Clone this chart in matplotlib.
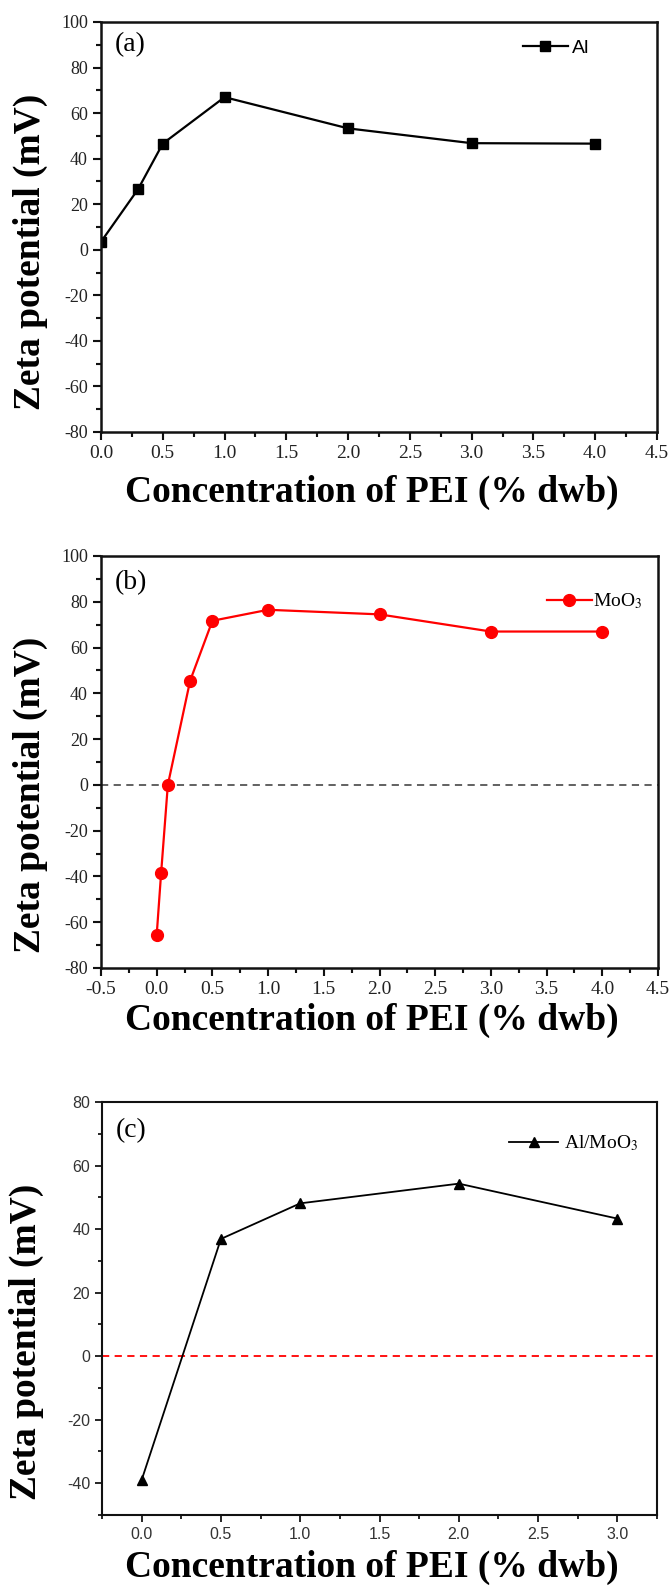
import matplotlib
matplotlib.use("Agg")
import matplotlib.pyplot as plt
from matplotlib.ticker import MultipleLocator

plt.rcParams["axes.unicode_minus"] = False
plt.rcParams["mathtext.fontset"] = "stix"

# ---- data ----
al_x = [0.0, 0.3, 0.5, 1.0, 2.0, 3.0, 4.0]
al_y = [3.5, 26.6, 46.6, 67.0, 53.3, 46.8, 46.6]

moo3_x = [0.0, 0.04, 0.1, 0.3, 0.5, 1.0, 2.0, 3.0, 4.0]
moo3_y = [-65.5, -38.3, 0.0, 45.5, 71.7, 76.5, 74.5, 67.0, 67.0]

almoo3_x = [0.0, 0.5, 1.0, 2.0, 3.0]
almoo3_y = [-39.0, 36.9, 48.1, 54.3, 43.3]

xlabel = "Concentration of PEI (% dwb)"
ylabel = "Zeta potential (mV)"

W, H = 670, 1586
fig = plt.figure(figsize=(W / 100, H / 100), dpi=100)
fig.patch.set_facecolor("white")

SERIF = ["Liberation Serif", "DejaVu Serif"]
SANS = ["Liberation Sans", "DejaVu Sans"]


def rect(l, r, t, b):
    return [l / W, 1 - b / H, (r - l) / W, (b - t) / H]


def style(ax, tickfont, tickcolor, xsize, ysize, lw=1.8, ml=6, mn=3.5):
    for s in ax.spines.values():
        s.set_linewidth(lw)
        s.set_color("#111111")
    ax.tick_params(which="both", direction="out", top=False, right=False,
                   width=lw * 0.85, colors="#111111")
    ax.tick_params(which="major", length=ml, pad=3.5, labelcolor=tickcolor)
    ax.tick_params(which="minor", length=mn)
    ax.tick_params(axis="x", labelsize=xsize)
    ax.tick_params(axis="y", labelsize=ysize)
    for lab in ax.get_xticklabels() + ax.get_yticklabels():
        lab.set_family(tickfont)


def axis_labels(xc, xy, yx, yc, xva="center"):
    fig.text(xc / W, 1 - xy / H, xlabel, ha="center", va=xva,
             family=SERIF, weight="bold", fontsize=27)
    fig.text(yx / W, 1 - yc / H, ylabel, ha="center", va="center",
             rotation=90, family=SERIF, weight="bold", fontsize=27)


# ---- panel (a) ----
axa = fig.add_axes(rect(101, 657, 22, 432))
axa.plot(al_x, al_y, color="black", lw=1.6, marker="s", ms=7, label="Al")
axa.set_xlim(0, 4.5)
axa.set_ylim(-80, 100)
axa.xaxis.set_major_locator(MultipleLocator(0.5))
axa.xaxis.set_minor_locator(MultipleLocator(0.25))
axa.yaxis.set_major_locator(MultipleLocator(20))
axa.yaxis.set_minor_locator(MultipleLocator(10))
axa.xaxis.set_major_formatter(plt.FormatStrFormatter("%.1f"))
style(axa, SERIF, "#222222", 14, 13)
axa.text(0.025, 0.945, "(a)", transform=axa.transAxes, ha="left", va="center",
         family=SERIF, fontsize=20)
axa.legend(loc="center left", bbox_to_anchor=(0.745, 0.937), frameon=False,
           handlelength=2.3, handletextpad=0.2, borderaxespad=0,
           prop={"family": SANS, "size": 14})
axis_labels(372, 492, 30, 252)

# ---- panel (b) ----
axb = fig.add_axes(rect(101, 658, 556, 968))
axb.axhline(0, color="#555555", lw=1.3, ls=(0, (4, 3)))
axb.plot(moo3_x, moo3_y, color="#ff0000", lw=1.6, marker="o", ms=8.5,
         label="MoO$_3$")
axb.set_xlim(-0.5, 4.5)
axb.set_ylim(-80, 100)
axb.xaxis.set_major_locator(MultipleLocator(0.5))
axb.xaxis.set_minor_locator(MultipleLocator(0.25))
axb.yaxis.set_major_locator(MultipleLocator(20))
axb.yaxis.set_minor_locator(MultipleLocator(10))
axb.xaxis.set_major_formatter(plt.FormatStrFormatter("%.1f"))
style(axb, SERIF, "#222222", 14, 13)
axb.text(0.025, 0.935, "(b)", transform=axb.transAxes, ha="left", va="center",
         family=SERIF, fontsize=20)
axb.legend(loc="center left", bbox_to_anchor=(0.787, 0.89), frameon=False,
           handlelength=2.3, handletextpad=0.05, borderaxespad=0,
           prop={"family": SERIF, "size": 14})
axis_labels(372, 1020, 30, 795)

# ---- panel (c) ----
axc = fig.add_axes(rect(102, 657, 1102, 1515))
axc.axhline(0, color="#ff0000", lw=1.3, ls=(0, (4, 3)))
axc.plot(almoo3_x, almoo3_y, color="black", lw=1.3, marker="^", ms=7.5,
         label="Al/MoO$_3$")
axc.set_xlim(-0.25, 3.25)
axc.set_ylim(-50, 80)
axc.xaxis.set_major_locator(MultipleLocator(0.5))
axc.xaxis.set_minor_locator(MultipleLocator(0.25))
axc.yaxis.set_major_locator(MultipleLocator(20))
axc.yaxis.set_minor_locator(MultipleLocator(10))
axc.xaxis.set_major_formatter(plt.FormatStrFormatter("%.1f"))
style(axc, SANS, "#333333", 11.5, 11.5, lw=1.5, ml=5, mn=3)
axc.text(0.025, 0.93, "(c)", transform=axc.transAxes, ha="left", va="center",
         family=SERIF, fontsize=20)
axc.legend(loc="center left", bbox_to_anchor=(0.72, 0.9), frameon=False,
           handlelength=2.5, handletextpad=0.3, borderaxespad=0,
           prop={"family": SERIF, "size": 14})
axis_labels(372, 1577, 26, 1342, xva="baseline")

fig.savefig("out.png", dpi=100, facecolor="white")
